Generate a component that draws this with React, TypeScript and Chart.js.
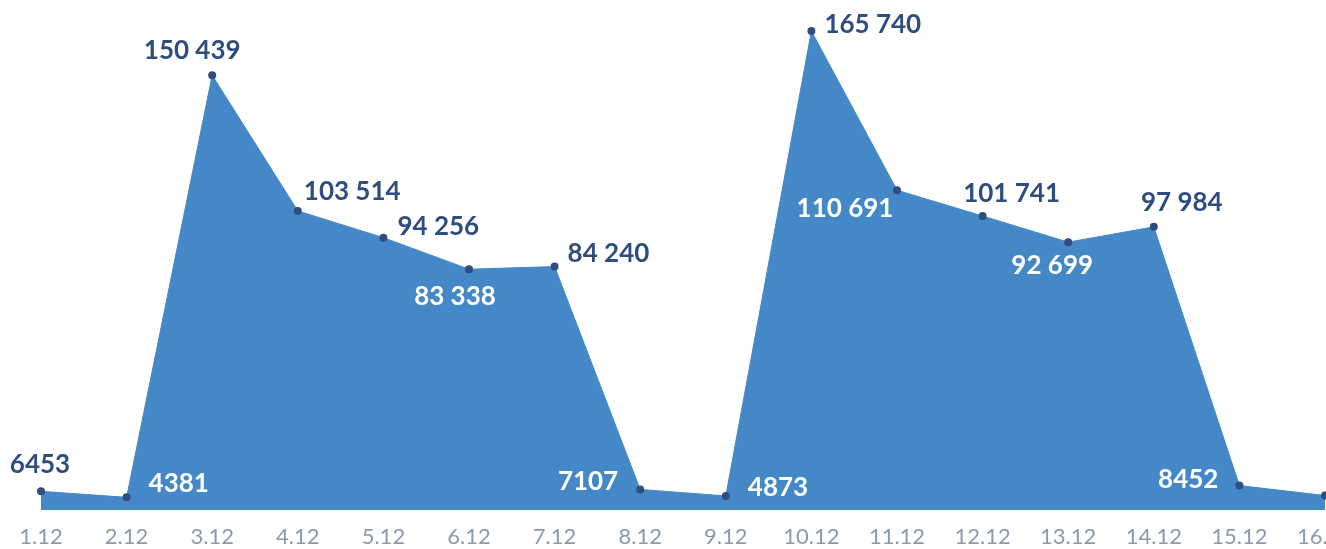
import React, { useEffect, useRef } from "react";
import { Chart, registerables } from "chart.js";

Chart.register(...registerables);

const categories = ["1.12", "2.12", "3.12", "4.12", "5.12", "6.12", "7.12", "8.12", "9.12", "10.12", "11.12", "12.12", "13.12", "14.12", "15.12", "16.12"];
const values = [6453, 4381, 150439, 103514, 94256, 83338, 84240, 7107, 4873, 165740, 110691, 101741, 92699, 97984, 8452, 5000];
const showLabel = [true, true, true, true, true, true, true, true, true, true, true, true, true, true, true, false];

// label styling: [textAlign, dx, dy, light]
const labelStyle: [CanvasTextAlign, number, number, boolean][] = [
  ["center", -1, -27, false],
  ["left", 22, -14, true],
  ["center", -20, -25, false],
  ["left", 6, -19, false],
  ["left", 14, -11, false],
  ["center", -14, 27, true],
  ["left", 13, -13, false],
  ["right", -22, -8, true],
  ["left", 22, -8, true],
  ["left", 13, -6, false],
  ["center", -52, 18, true],
  ["center", 29, -22, false],
  ["center", -16, 23, true],
  ["center", 28, -24, false],
  ["right", -21, -6, true],
  ["center", 0, -20, false],
];

function fmt(v: number): string {
  const s = String(Math.round(v));
  if (v < 10000) return s;
  return s.replace(/\B(?=(\d{3})+(?!\d))/g, " ");
}

const labelPlugin = {
  id: "valueLabels",
  afterDatasetsDraw(chart: any) {
    const ctx = chart.ctx;
    const meta = chart.getDatasetMeta(0);
    ctx.save();
    ctx.font = "bold 26px Lato";
    ctx.textBaseline = "middle";
    meta.data.forEach((pt: any, i: number) => {
      if (!showLabel[i]) return;
      const [align, dx, dy, light] = labelStyle[i];
      ctx.textAlign = align;
      ctx.fillStyle = light ? "#ffffff" : "#2f4d7e";
      ctx.fillText(fmt(values[i]), pt.x + dx, pt.y + dy);
    });
    ctx.restore();
  },
};

export default function App() {
  const ref = useRef<HTMLCanvasElement>(null);
  useEffect(() => {
    document.body.style.margin = "0";
    document.body.style.overflow = "hidden";
    const chart = new Chart(ref.current!, {
      type: "line",
      data: {
        labels: categories,
        datasets: [
          {
            data: values,
            fill: "origin",
            backgroundColor: "#4488c7",
            borderColor: "#4488c7",
            borderWidth: 1,
            pointRadius: 4,
            pointBackgroundColor: "#2f4d7e",
            pointBorderColor: "#2f4d7e",
            pointBorderWidth: 0,
            tension: 0,
          },
        ],
      },
      options: {
        responsive: false,
        animation: false,
        layout: { autoPadding: false, padding: { left: 41, right: 1, top: 0, bottom: 0 } },
        plugins: { legend: { display: false }, tooltip: { enabled: false } },
        scales: {
          x: {
            z: 1,
            grid: { display: false, drawTicks: false, tickLength: 0 },
            border: { display: true, color: "rgba(255,255,255,0.85)", dash: [3, 3], width: 1 },
            ticks: { color: "#8c9aab", font: { family: "Lato", size: 22 }, padding: 14, maxRotation: 0, autoSkip: false },
            afterFit: (scale: any) => {
              scale.paddingLeft = 0;
              scale.paddingRight = 0;
              scale.height = 39;
            },
          },
          y: { display: false, min: 0, max: 176500 },
        },
      },
      plugins: [labelPlugin],
    });
    return () => chart.destroy();
  }, []);
  return <canvas ref={ref} width={1326} height={549} style={{ display: "block" }} />;
}
